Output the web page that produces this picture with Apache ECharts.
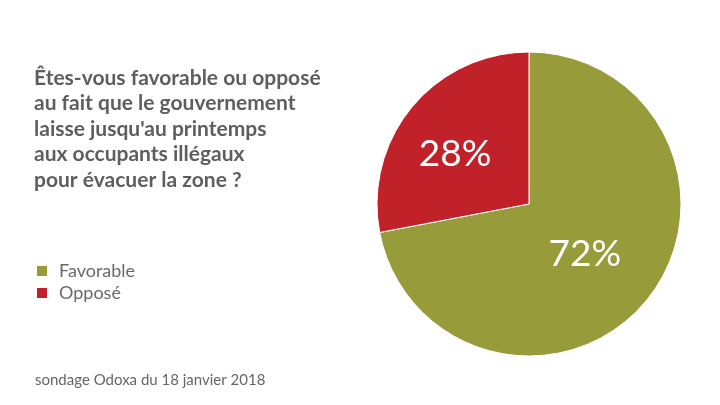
<!DOCTYPE html>
<html><head><meta charset="utf-8">
<script src="https://cdn.jsdelivr.net/npm/echarts@6/dist/echarts.min.js"></script>
<style>html,body{margin:0;padding:0;background:#fff}#c{width:720px;height:405px}</style>
</head><body><div id="c"></div>
<script>
const categories = ['Favorable', 'Opposé'];
const values = [72, 28];
const colors = ['#979b3a', '#c1222a'];
const titleLines = ['Êtes-vous favorable ou opposé', 'au fait que le gouvernement', "laisse jusqu'au printemps", 'aux occupants illégaux', 'pour évacuer la zone ?'];
const sourceText = 'sondage Odoxa du 18 janvier 2018';

const chart = echarts.init(document.getElementById('c'));
const FONT = 'Lato';
chart.setOption({
  animation: false,
  backgroundColor: '#fff',
  title: [{
    text: titleLines.join('\n'),
    left: 34, top: 65, padding: 0,
    textStyle: { fontFamily: FONT, fontWeight: 'bold', fontSize: 21, color: '#5e5e5e', lineHeight: 25.5 }
  }, {
    text: sourceText,
    left: 35, top: 373, padding: 0,
    textStyle: { fontFamily: FONT, fontWeight: 'normal', fontSize: 15, color: '#666' }
  }],
  legend: {
    orient: 'vertical', left: 35, top: 262, padding: 0,
    itemWidth: 12, itemHeight: 12, itemGap: 4, icon: 'rect',
    textStyle: { fontFamily: FONT, fontSize: 18, color: '#6a6a6a', padding: [0, 0, 0, 6] },
    data: categories
  },
  series: [{
    type: 'pie',
    center: [529, 204], radius: 152,
    startAngle: 90, clockwise: true,
    itemStyle: { borderColor: '#fff', borderWidth: 1 },
    label: { show: true, position: 'inside', formatter: '{c}%', color: '#fff', fontFamily: FONT, fontSize: 37 },
    labelLine: { show: false },
    emphasis: { disabled: true },
    data: categories.map((n, i) => ({
      name: n, value: values[i], itemStyle: { color: colors[i] },
      label: i === 1 ? { offset: [-13, 0] } : { offset: [-5, 0] }
    }))
  }]
});
</script></body></html>
